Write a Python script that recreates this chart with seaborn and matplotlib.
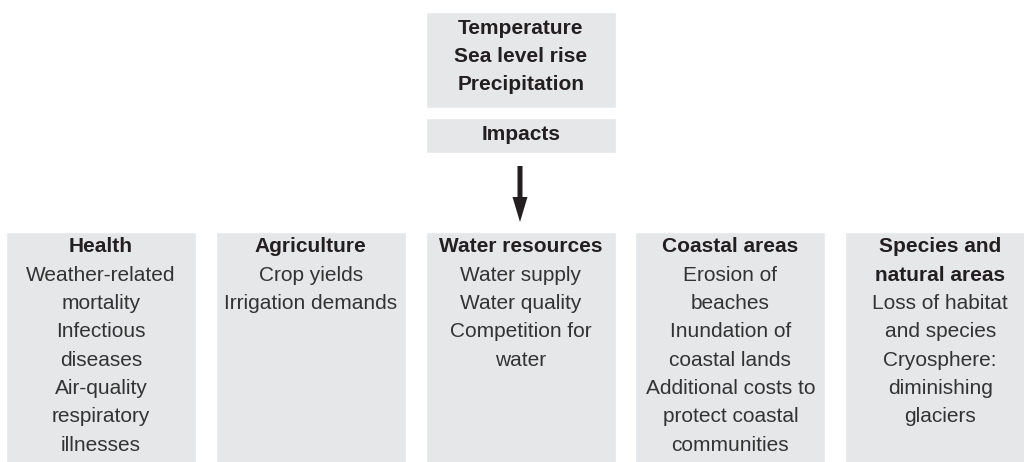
import matplotlib.pyplot as plt
import seaborn as sns

# top boxes
drivers = ['Temperature', 'Sea level rise', 'Precipitation']
impacts_label = 'Impacts'

# sectors: bold header lines and plain body lines
headers = [
    ['Health'],
    ['Agriculture'],
    ['Water resources'],
    ['Coastal areas'],
    ['Species and', 'natural areas'],
]
bodies = [
    ['Weather-related', 'mortality', 'Infectious', 'diseases', 'Air-quality', 'respiratory', 'illnesses'],
    ['Crop yields', 'Irrigation demands'],
    ['Water supply', 'Water quality', 'Competition for', 'water'],
    ['Erosion of', 'beaches', 'Inundation of', 'coastal lands', 'Additional costs to', 'protect coastal', 'communities'],
    ['Loss of habitat', 'and species', 'Cryosphere:', 'diminishing', 'glaciers'],
]

box_color = '#e6e7e8'
text_color = '#231f20'

sns.set_theme(style='white')
plt.rcParams['font.family'] = ['Liberation Sans', 'DejaVu Sans']

fig = plt.figure(figsize=(10.24, 4.62), dpi=100)
ax = fig.add_axes([0, 0, 1, 1])
ax.set_xlim(0, 1024)
ax.set_ylim(462, 0)
ax.axis('off')

# top boxes
ax.bar(521, 96, bottom=12, width=190, color=box_color)
ax.bar(521, 35, bottom=118, width=190, color=box_color)
for i, t in enumerate(drivers):
    ax.text(521, 28 + i * 28, t, ha='center', va='center', fontsize=15,
            fontweight='bold', color=text_color)
ax.text(521, 135, impacts_label, ha='center', va='center', fontsize=15,
        fontweight='bold', color=text_color)

# arrow
ax.arrow(520, 166, 0, 56, width=5, head_width=15, head_length=25,
         length_includes_head=True, color=text_color, lw=0)

# sector boxes
lefts = [6 + k * 209.8 for k in range(len(headers))]
centers = [l + 95 for l in lefts]
ax.bar(centers, 232, bottom=232, width=190, color=box_color)

step = 28.3
for c, hd, bd in zip(centers, headers, bodies):
    y = 247
    for t in hd:
        ax.text(c, y, t, ha='center', va='center', fontsize=15,
                fontweight='bold', color=text_color)
        y += step
    for t in bd:
        ax.text(c, y, t, ha='center', va='center', fontsize=15,
                color='#333333')
        y += step

fig.savefig('out.png', dpi=100)
